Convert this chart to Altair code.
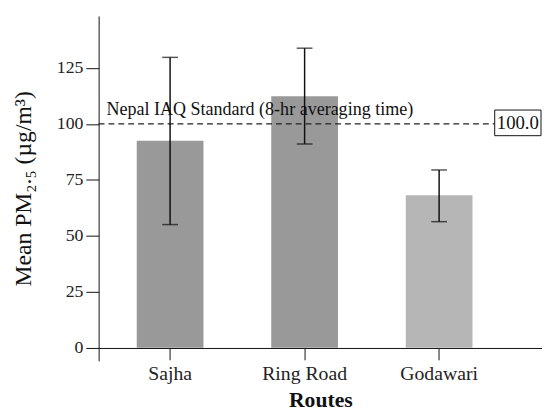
import altair as alt
import pandas as pd

routes = ["Sajha", "Ring Road", "Godawari"]
means = [92.5, 112.3, 68.1]
lower = [55.0, 91.0, 56.3]
upper = [129.7, 133.8, 79.4]
bar_colors = ["#999999", "#999999", "#b6b6b6"]
y_ticks = [0, 25, 50, 75, 100, 125]
standard = 100.0
standard_label = "Nepal IAQ Standard (8-hr averaging time)"

df = pd.DataFrame({"route": routes, "mean": means, "lo": lower, "hi": upper})

FONT = "Liberation Serif"

xscale = alt.Scale(paddingInner=0.504, paddingOuter=0.40, align=0.354)
xenc = alt.X("route:N", sort=routes, scale=xscale, title="Routes",
             axis=alt.Axis(offset=-13, labelAngle=0, labelFont=FONT))
yscale = alt.Scale(domain=[-5.85, 148.2], nice=False, zero=False)
yenc = alt.Y("mean:Q", scale=yscale, title="Mean PM₂.₅ (µg/m³)",
             axis=alt.Axis(values=y_ticks, grid=False, labelFont=FONT))

base = alt.Chart(df)
xn = alt.X("route:N", sort=routes)

bars = base.mark_bar().encode(
    x=xenc,
    y=yenc,
    y2=alt.datum(0),
    color=alt.Color("route:N", scale=alt.Scale(domain=routes, range=bar_colors), legend=None),
)

err = base.mark_rule(color="#111", strokeWidth=1.5).encode(x=xn, y="lo:Q", y2="hi:Q")
cap_lo = base.mark_tick(color="#111", size=16, thickness=1.5).encode(x=xn, y="lo:Q")
cap_hi = base.mark_tick(color="#111", size=16, thickness=1.5).encode(x=xn, y="hi:Q")

ann = alt.Chart(pd.DataFrame({"v": [standard]}))
std_line = ann.mark_rule(color="#222", strokeDash=[6, 4], strokeWidth=1.2).encode(
    y="v:Q", x=alt.value(0), x2=alt.value(402)
)
std_text = ann.mark_text(
    font=FONT, fontSize=18.3, color="#111", align="left", baseline="alphabetic", dy=-8.5
).encode(y="v:Q", x=alt.value(8), text=alt.value(standard_label))
box = ann.mark_rect(fill="white", stroke="#111", strokeWidth=1, yOffset=-14, y2Offset=12).encode(
    y="v:Q", y2="v:Q", x=alt.value(402), x2=alt.value(449)
)
box_text = ann.mark_text(
    font=FONT, fontSize=19, color="#111", align="center", baseline="middle", dy=-1
).encode(y="v:Q", x=alt.value(425.5), text=alt.value("100.0"))

chart = (
    alt.layer(bars, std_line, std_text, err, cap_lo, cap_hi, box, box_text)
    .properties(
        width=450, height=350,
        autosize=alt.AutoSizeParams(type="none"),
        padding={"left": 92, "top": 5, "right": 0, "bottom": 56},
    )
    .configure(font=FONT)
    .configure_view(stroke=None)
    .configure_axis(
        labelFont=FONT, titleFont=FONT, grid=False,
        tickColor="#111", domainColor="#111", labelColor="#222", titleColor="#111",
    )
    .configure_axisX(
        labelFontSize=20, labelPadding=4, tickSize=12, labelAngle=0, labelFont=FONT,
        titleFontSize=22, titleFontWeight="bold", titleY=59, titleBaseline="alphabetic",
    )
    .configure_axisY(
        labelFontSize=18, labelPadding=3, tickSize=13, labelFont=FONT,
        titleFontSize=24, titleFontWeight="normal", titleAngle=-90,
        titleX=-76, titleY=175, titleAlign="center", titleBaseline="middle",
    )
)

chart.save("out.html", embed_options={"renderer": "svg", "actions": False})
